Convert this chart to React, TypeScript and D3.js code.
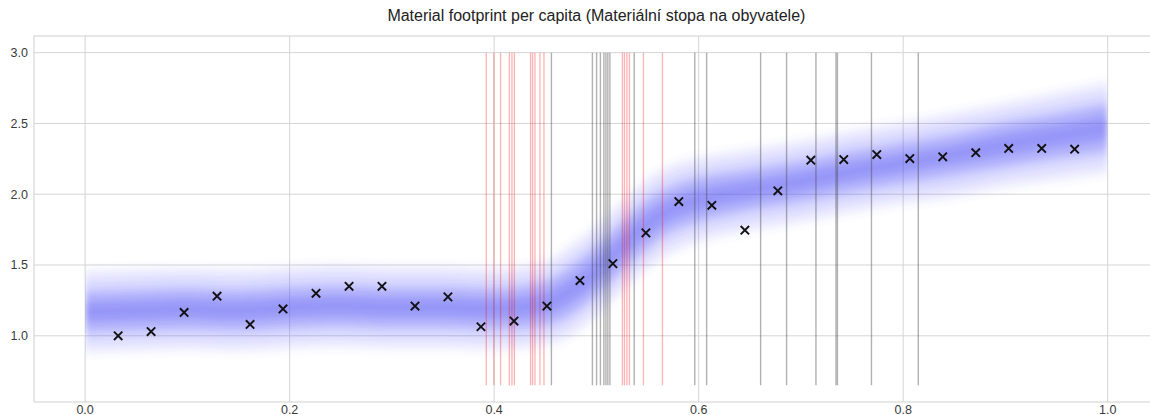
import React from "react";
import * as d3 from "d3";

const W = 1150;
const H = 415;

// Scatter observations (x marks)
const pointX = [0.0323, 0.0645, 0.0968, 0.129, 0.1613, 0.1935, 0.2258, 0.2581, 0.2903, 0.3226, 0.3548, 0.3871, 0.4194, 0.4516, 0.4839, 0.5161, 0.5484, 0.5806, 0.6129, 0.6452, 0.6774, 0.7097, 0.7419, 0.7742, 0.8065, 0.8387, 0.871, 0.9032, 0.9355, 0.9677];
const pointY = [1.0, 1.03, 1.165, 1.28, 1.08, 1.19, 1.3, 1.35, 1.35, 1.21, 1.275, 1.064, 1.104, 1.21, 1.39, 1.51, 1.727, 1.948, 1.922, 1.746, 2.024, 2.24, 2.245, 2.28, 2.252, 2.264, 2.293, 2.323, 2.323, 2.318];

// Posterior band of sampled curves (centre and half-widths)
const bandX = [0, 0.05, 0.1, 0.15, 0.2, 0.25, 0.3, 0.35, 0.4, 0.45, 0.475, 0.5, 0.525, 0.55, 0.575, 0.6, 0.65, 0.7, 0.75, 0.8, 0.85, 0.9, 0.95, 1.0];
const bandCenter = [1.17, 1.18, 1.19, 1.18, 1.2, 1.21, 1.2, 1.2, 1.19, 1.23, 1.32, 1.46, 1.63, 1.79, 1.9, 1.96, 2.03, 2.09, 2.16, 2.22, 2.28, 2.35, 2.41, 2.47];
const bandOuter = [0.27, 0.27, 0.27, 0.27, 0.27, 0.27, 0.27, 0.27, 0.27, 0.28, 0.3, 0.3, 0.3, 0.3, 0.29, 0.28, 0.27, 0.27, 0.27, 0.27, 0.28, 0.28, 0.29, 0.3];
const bandCore = [0.09, 0.09, 0.09, 0.09, 0.09, 0.09, 0.09, 0.09, 0.09, 0.1, 0.11, 0.11, 0.11, 0.11, 0.1, 0.1, 0.09, 0.09, 0.09, 0.09, 0.09, 0.1, 0.1, 0.11];

// Change-point markers
const redLines = [0.3923, 0.3997, 0.4063, 0.4149, 0.4174, 0.4198, 0.4356, 0.4376, 0.4399, 0.4448, 0.4487, 0.5254, 0.5274, 0.5298, 0.5323, 0.546, 0.5646];
const grayLines = [0.456, 0.4961, 0.5002, 0.5039, 0.5073, 0.5093, 0.5112, 0.5132, 0.537, 0.5962, 0.6078, 0.6606, 0.686, 0.7147, 0.7343, 0.7357, 0.769, 0.8148];
const vlineRange = [0.65, 3.0];

const xTicks = [0.0, 0.2, 0.4, 0.6, 0.8, 1.0];
const yTicks = [1.0, 1.5, 2.0, 2.5, 3.0];
const title = "Material footprint per capita (Materiální stopa na obyvatele)";

const FONT = "'Liberation Sans', Arial, Helvetica, sans-serif";

export default function App() {
  const left = 34;
  const right = 1158.8;
  const top = 36;
  const bottom = 402;
  const x = d3.scaleLinear().domain([-0.05, 1.05]).range([left, right]);
  const y = d3.scaleLinear().domain([0.5325, 3.1175]).range([bottom, top]);

  const idx = d3.range(bandX.length);
  const areaFor = (k: number, arr: number[]) =>
    d3
      .area<number>()
      .x((i) => x(bandX[i]))
      .y0((i) => y(bandCenter[i] - arr[i] * k))
      .y1((i) => y(bandCenter[i] + arr[i] * k))
      .curve(d3.curveMonotoneX)(idx) as string;

  const outerLayers = [1.15, 1.0, 0.85, 0.7, 0.55];
  const coreLayers = [1.6, 1.2, 0.8, 0.45];

  const m = 4.2;

  return (
    <svg
      width={W}
      height={H}
      style={{ position: "absolute", left: 0, top: 0, background: "#fff" }}
    >
      <rect x={0} y={0} width={W} height={H} fill="#fff" />
      <defs>
        <clipPath id="plotclip">
          <rect x={left} y={top} width={right - left} height={bottom - top} />
        </clipPath>
        <clipPath id="bandclip">
          <rect x={x(0)} y={top} width={x(1) - x(0)} height={bottom - top} />
        </clipPath>
        <filter id="soft" x="-5%" y="-20%" width="110%" height="140%">
          <feGaussianBlur stdDeviation="3" />
        </filter>
      </defs>
      {/* grid */}
      {yTicks.map((t) => (
        <line key={"gy" + t} x1={left} x2={right} y1={y(t)} y2={y(t)} stroke="#d5d5d5" strokeWidth={1} />
      ))}
      {xTicks.map((t) => (
        <line key={"gx" + t} x1={x(t)} x2={x(t)} y1={top} y2={bottom} stroke="#d5d5d5" strokeWidth={1} />
      ))}
      <rect x={left} y={top} width={right - left} height={bottom - top} fill="none" stroke="#d0d0d0" strokeWidth={1} />

      <g clipPath="url(#plotclip)">
        {/* band */}
        <g clipPath="url(#bandclip)">
          <g filter="url(#soft)">
            {outerLayers.map((k, i) => (
              <path key={"o" + i} d={areaFor(k, bandOuter)} fill="#5a5aff" fillOpacity={0.07} />
            ))}
            {coreLayers.map((k, i) => (
              <path key={"c" + i} d={areaFor(k, bandCore)} fill="#4d4df2" fillOpacity={0.12} />
            ))}
          </g>
        </g>
        {/* vertical lines */}
        {redLines.map((v, i) => (
          <line key={"r" + i} x1={x(v)} x2={x(v)} y1={y(vlineRange[0])} y2={y(vlineRange[1])} stroke="red" strokeOpacity={0.3} strokeWidth={1.3} />
        ))}
        {grayLines.map((v, i) => (
          <line key={"k" + i} x1={x(v)} x2={x(v)} y1={y(vlineRange[0])} y2={y(vlineRange[1])} stroke="#444" strokeOpacity={0.42} strokeWidth={1.4} />
        ))}
        {/* points */}
        {pointX.map((px, i) => {
          const cx = x(px);
          const cy = y(pointY[i]);
          return (
            <path
              key={"p" + i}
              d={`M${cx - m},${cy - m}L${cx + m},${cy + m}M${cx - m},${cy + m}L${cx + m},${cy - m}`}
              stroke="#111"
              strokeWidth={1.9}
              fill="none"
            />
          );
        })}
      </g>

      {/* tick labels */}
      {yTicks.map((t) => (
        <text key={"ty" + t} x={28} y={y(t)} dy="0.35em" textAnchor="end" fontFamily={FONT} fontSize={12.5} fill="#3a3a3a">
          {d3.format(".1f")(t)}
        </text>
      ))}
      {xTicks.map((t) => (
        <text key={"tx" + t} x={x(t)} y={405} dy="0.75em" textAnchor="middle" fontFamily={FONT} fontSize={12.5} fill="#3a3a3a">
          {d3.format(".1f")(t)}
        </text>
      ))}
      <text x={(left + right) / 2} y={21} textAnchor="middle" fontFamily={FONT} fontSize={16} fill="#222">
        {title}
      </text>
    </svg>
  );
}
